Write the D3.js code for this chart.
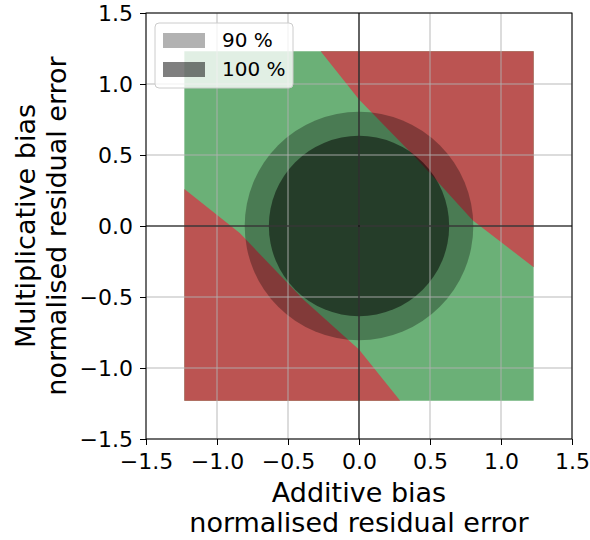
<!DOCTYPE html>
<html>
<head>
<meta charset="utf-8">
<script src="https://cdn.jsdelivr.net/npm/d3@7"></script>
<style>
  body { margin: 0; background: #fff; }
  text { font-family: "DejaVu Sans", sans-serif; }
</style>
</head>
<body>
<div id="chart-area"></div>
<script>
// Values
var tickValues = [-1.5, -1.0, -0.5, 0.0, 0.5, 1.0, 1.5];
var domainX = [-1.5, 1.5];
var domainY = [-1.5, 1.5];

// extent of the scattered sample square
var sampleSquare = [[-1.23, 1.23], [1.23, 1.23], [1.23, -1.23], [-1.23, -1.23]];

// red corners (rest of the square is green)
var redUpper = [[-0.27, 1.23], [1.23, 1.23], [1.23, -0.29], [0.80, 0.04],
                [0.41, 0.47], [0.0, 0.89]];
var redLower = [[-1.23, 0.26], [-0.84, -0.05], [-0.39, -0.52], [0.0, -0.87],
                [0.29, -1.23], [-1.23, -1.23]];

// circles: radius and opacity
var circleLabels = ["90 %", "100 %"];
var circleRadius = [0.805, 0.635];
var circleAlpha = [0.3, 0.5];

// Setting up svg chart area
var margin = { left: 146, right: 18, top: 13, bottom: 101 };
var width = 590 - margin.left - margin.right,
    height = 540 - margin.top - margin.bottom;

var svg = d3.select("#chart-area")
    .append("svg")
        .attr("width", 590)
        .attr("height", 540);

var g = svg.append("g")
    .attr("transform", "translate(" + margin.left + "," + margin.top + ")");

// Scales
var x = d3.scaleLinear().domain(domainX).range([0, width]);
var y = d3.scaleLinear().domain(domainY).range([height, 0]);

var line = d3.line()
    .x(function(d) { return x(d[0]); })
    .y(function(d) { return y(d[1]); });

// Scatter regions
g.append("path")
    .attr("d", line(sampleSquare) + "Z")
    .attr("fill", "#6bb077");

g.selectAll(".red")
    .data([redUpper, redLower])
    .enter().append("path")
        .attr("class", "red")
        .attr("d", function(d) { return line(d) + "Z"; })
        .attr("fill", "#bb5452");

// Circles
g.selectAll(".circ")
    .data(circleRadius)
    .enter().append("ellipse")
        .attr("class", "circ")
        .attr("cx", x(0))
        .attr("cy", y(0))
        .attr("rx", function(d) { return x(d) - x(0); })
        .attr("ry", function(d) { return y(0) - y(d); })
        .attr("fill", "#000")
        .attr("fill-opacity", function(d, i) { return circleAlpha[i]; });

// Grid
var grid = g.append("g");
grid.selectAll(".gx")
    .data(tickValues)
    .enter().append("line")
        .attr("x1", function(d) { return x(d); })
        .attr("x2", function(d) { return x(d); })
        .attr("y1", 0).attr("y2", height)
        .attr("stroke", "#b0b0b0")
        .attr("stroke-opacity", 0.6)
        .attr("stroke-width", 1.5);
grid.selectAll(".gy")
    .data(tickValues)
    .enter().append("line")
        .attr("y1", function(d) { return y(d); })
        .attr("y2", function(d) { return y(d); })
        .attr("x1", 0).attr("x2", width)
        .attr("stroke", "#b0b0b0")
        .attr("stroke-opacity", 0.6)
        .attr("stroke-width", 1.5);

// Zero lines
g.append("line")
    .attr("x1", x(0)).attr("x2", x(0))
    .attr("y1", 0).attr("y2", height)
    .attr("stroke", "#000").attr("stroke-width", 1.1);
g.append("line")
    .attr("x1", 0).attr("x2", width)
    .attr("y1", y(0)).attr("y2", y(0))
    .attr("stroke", "#000").attr("stroke-width", 1.1);

// Axes
var fmt = function(d) { return d3.format(".1f")(d).replace("-", "\u2212"); };

var xAxis = g.append("g")
    .attr("transform", "translate(0," + height + ")")
    .call(d3.axisBottom(x).tickValues(tickValues).tickFormat(fmt)
        .tickSize(6).tickPadding(8));
var yAxis = g.append("g")
    .call(d3.axisLeft(y).tickValues(tickValues).tickFormat(fmt)
        .tickSize(6).tickPadding(7));

[xAxis, yAxis].forEach(function(a) {
    a.select(".domain").remove();
    a.selectAll("text")
        .attr("font-size", "22px")
        .attr("font-family", "DejaVu Sans")
        .attr("fill", "#000");
    a.selectAll("line").attr("stroke", "#000").attr("stroke-width", 1);
});

// Frame
g.append("rect")
    .attr("width", width)
    .attr("height", height)
    .attr("fill", "none")
    .attr("stroke", "#000")
    .attr("stroke-width", 1);

// Legend
var legend = g.append("g").attr("transform", "translate(9,10)");
legend.append("rect")
    .attr("width", 138).attr("height", 65)
    .attr("rx", 4)
    .attr("fill", "#fff").attr("fill-opacity", 0.8)
    .attr("stroke", "#cccccc").attr("stroke-width", 1);

var items = legend.selectAll(".item")
    .data(circleLabels)
    .enter().append("g")
        .attr("transform", function(d, i) { return "translate(8," + (10 + i * 29) + ")"; });
items.append("rect")
    .attr("width", 42).attr("height", 15)
    .attr("fill", "#000")
    .attr("fill-opacity", function(d, i) { return circleAlpha[i]; });
items.append("text")
    .attr("x", 59).attr("y", 14)
    .attr("font-size", "20px")
    .text(function(d) { return d; });

// X Label
var xl = svg.append("text")
    .attr("text-anchor", "middle")
    .attr("font-size", "27px");
xl.append("tspan").attr("x", margin.left + x(0)).attr("y", 502).text("Additive bias");
xl.append("tspan").attr("x", margin.left + x(0)).attr("y", 532).text("normalised residual error");

// Y Label
var yl = svg.append("text")
    .attr("text-anchor", "middle")
    .attr("font-size", "27px")
    .attr("transform", "rotate(-90)");
yl.append("tspan").attr("x", -(margin.top + y(0))).attr("y", 35).text("Multiplicative bias");
yl.append("tspan").attr("x", -(margin.top + y(0))).attr("y", 66).text("normalised residual error");
</script>
</body>
</html>
